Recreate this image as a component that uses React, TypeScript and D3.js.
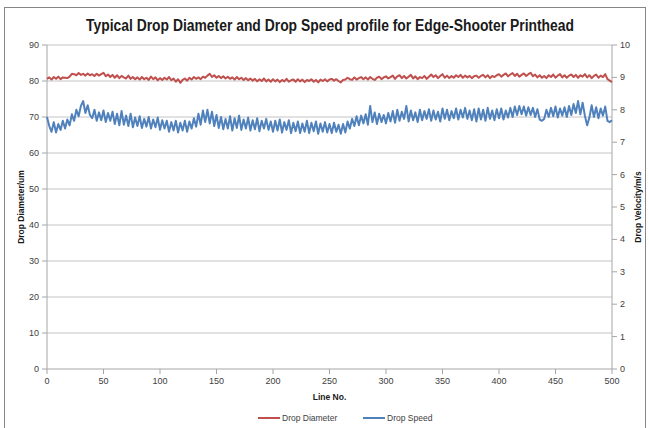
import * as d3 from "d3";

// drop diameter (um), every 2nd line from 0 to 500
const diameter: number[] = [
  80.6, 81.0, 80.4, 81.1, 80.6, 81.2, 80.5, 81.0, 80.9, 80.8,
  81.2, 82.0, 81.9, 81.6, 82.2, 81.7, 82.0, 81.5, 82.1, 81.6,
  81.9, 81.4, 82.0, 81.5, 81.9, 82.3, 81.3, 81.8, 81.1, 81.7,
  80.9, 81.6, 80.8, 81.4, 81.0, 80.7, 81.5, 80.6, 81.1, 80.5,
  81.0, 80.4, 81.1, 80.5, 80.9, 80.3, 81.2, 80.5, 81.0, 80.2,
  80.8, 80.3, 80.9, 80.4, 81.1, 80.2, 80.7, 79.8, 80.5, 79.5,
  80.3, 80.7, 80.1, 80.9, 80.4, 81.1, 80.6, 81.0, 80.5, 81.2,
  80.9, 81.5, 82.0, 81.1, 81.6, 80.9, 81.4, 80.8, 81.3, 80.7,
  81.2, 80.6, 81.0, 80.4, 81.1, 80.5, 80.9, 80.3, 80.8, 80.2,
  80.7, 80.1, 80.6, 79.9, 80.5, 80.0, 80.7, 79.9, 80.4, 79.8,
  80.5, 79.9, 80.4, 79.7, 80.3, 79.9, 80.6, 79.8, 80.2, 80.4,
  79.8, 80.5, 79.9, 80.4, 79.7, 80.3, 80.0, 80.5, 79.8, 80.3,
  79.6, 80.4, 80.0, 80.5, 79.9, 80.4, 80.6, 80.1, 80.5, 80.0,
  79.6, 80.3, 80.4, 80.9, 80.5, 80.3, 81.0, 80.4, 80.8, 81.1,
  80.5, 81.0, 80.4, 81.1, 80.6, 80.3, 80.9, 81.2, 80.5, 81.0,
  81.3, 80.7, 81.1, 81.5, 80.6, 81.3, 81.6, 80.8, 81.4, 80.7,
  81.2, 81.7, 80.7, 81.3, 80.5, 81.1, 80.8, 81.4, 80.6, 81.2,
  81.8, 81.1, 81.6, 80.8, 81.4, 81.9, 80.9, 81.5, 80.8, 81.4,
  80.9, 81.6, 81.1, 81.7, 80.9, 81.5, 81.0, 81.4, 80.8, 81.3,
  81.5, 80.9, 81.4, 81.7, 81.0, 81.6, 80.8, 81.4, 81.1, 81.6,
  81.9, 81.2, 81.7, 82.1, 81.3, 81.8, 82.2, 81.4, 82.0, 81.2,
  81.7, 82.1, 81.4, 81.9, 82.3, 81.3, 81.8, 81.0, 81.6, 80.9,
  81.4, 80.8, 81.6, 81.1, 81.8, 80.9, 81.5, 81.9, 81.0, 81.6,
  80.9, 81.5, 81.8, 81.1, 81.7, 80.9, 81.6, 81.2, 81.9, 81.0,
  81.6, 80.8, 81.4, 81.8, 80.9, 81.5, 81.1, 81.9, 80.5, 80.1,
  79.7,
];

// drop speed (m/s), every 2nd line from 0 to 500
const speed: number[] = [
  7.78, 7.50, 7.32, 7.62, 7.30, 7.56, 7.38, 7.66, 7.42, 7.70,
  7.52, 7.86, 7.66, 8.00, 7.80, 8.12, 8.27, 7.90, 8.14, 7.84,
  7.74, 8.00, 7.66, 7.92, 7.68, 7.98, 7.62, 7.90, 7.66, 7.94,
  7.56, 7.88, 7.52, 7.96, 7.54, 7.82, 7.50, 7.88, 7.46, 7.76,
  7.50, 7.80, 7.44, 7.72, 7.48, 7.78, 7.42, 7.70, 7.46, 7.76,
  7.38, 7.68, 7.42, 7.66, 7.32, 7.62, 7.36, 7.66, 7.30, 7.60,
  7.36, 7.66, 7.32, 7.64, 7.42, 7.74, 7.48, 7.88, 7.54, 7.98,
  7.62, 8.00, 7.58, 7.94, 7.50, 7.84, 7.44, 7.78, 7.40, 7.72,
  7.42, 7.80, 7.36, 7.74, 7.44, 7.82, 7.38, 7.70, 7.42, 7.76,
  7.36, 7.68, 7.40, 7.74, 7.34, 7.66, 7.42, 7.72, 7.38, 7.64,
  7.32, 7.66, 7.36, 7.70, 7.30, 7.62, 7.38, 7.68, 7.28, 7.60,
  7.34, 7.64, 7.28, 7.58, 7.32, 7.66, 7.28, 7.60, 7.34, 7.64,
  7.26, 7.58, 7.32, 7.62, 7.30, 7.56, 7.28, 7.60, 7.32, 7.54,
  7.26, 7.56, 7.30, 7.64, 7.42, 7.72, 7.50, 7.80, 7.52, 7.82,
  7.58, 7.86, 7.54, 8.12, 7.62, 7.92, 7.56, 7.88, 7.62, 7.84,
  7.58, 7.90, 7.64, 7.96, 7.60, 8.00, 7.66, 7.94, 7.72, 8.12,
  7.64, 7.98, 7.68, 7.92, 7.62, 8.00, 7.68, 7.96, 7.72, 8.02,
  7.66, 7.98, 7.70, 7.94, 7.64, 8.04, 7.72, 8.00, 7.68, 7.96,
  7.74, 8.04, 7.70, 8.00, 7.76, 8.06, 7.72, 7.98, 7.68, 8.02,
  7.64, 8.04, 7.70, 8.00, 7.66, 8.06, 7.72, 7.98, 7.68, 8.02,
  7.74, 8.04, 7.70, 7.98, 7.76, 8.06, 7.78, 8.10, 7.84, 8.12,
  7.86, 8.10, 7.82, 8.08, 7.84, 8.06, 7.78, 8.02, 7.70, 7.66,
  7.72, 8.00, 7.78, 8.06, 7.80, 8.10, 7.76, 8.04, 7.82, 8.08,
  7.78, 8.12, 7.84, 8.18, 7.90, 8.27, 7.86, 8.22, 7.82, 7.52,
  7.76, 8.14, 7.78, 8.08, 7.74, 8.04, 7.82, 8.10, 7.66, 7.62,
  7.68,
];

const xTicks = [0, 50, 100, 150, 200, 250, 300, 350, 400, 450, 500];
const leftTicks = [0, 10, 20, 30, 40, 50, 60, 70, 80, 90];
const rightTicks = [0, 1, 2, 3, 4, 5, 6, 7, 8, 9, 10];

const RED = "#C0504D";
const BLUE = "#4F81BD";
const FONT = "'Liberation Sans', Arial, sans-serif";

export default function App() {
  const W = 649;
  const H = 428;
  const left = 47;
  const right = 612;
  const top = 45;
  const bottom = 369;

  const x = d3.scaleLinear().domain([0, 500]).range([left, right]);
  const yL = d3.scaleLinear().domain([0, 90]).range([bottom, top]);
  const yR = d3.scaleLinear().domain([0, 10]).range([bottom, top]);

  const redLine = d3
    .line<number>()
    .x((_, i) => x(i * 2))
    .y((d) => yL(d));
  const blueLine = d3
    .line<number>()
    .x((_, i) => x(i * 2))
    .y((d) => yR(d));

  return (
    <svg
      width={W}
      height={H}
      style={{ position: "absolute", left: 0, top: 0, background: "#fff" }}
      fontFamily={FONT}
    >
      {/* chart frame */}
      <rect x={4.5} y={7.5} width={641} height={430} fill="none" stroke="#868686" />

      <text
        x={330}
        y={31}
        textAnchor="middle"
        fontSize={16}
        fontWeight="bold"
        fill="#1a1a1a"
        textLength={488}
        lengthAdjust="spacingAndGlyphs"
      >
        Typical Drop Diameter and Drop Speed profile for Edge-Shooter Printhead
      </text>

      {/* gridlines */}
      {leftTicks.slice(1).map((t) => (
        <line key={t} x1={left} x2={right} y1={yL(t)} y2={yL(t)} stroke="#c4c4c4" strokeWidth={1} />
      ))}

      {/* axes */}
      <line x1={left} x2={left} y1={top} y2={bottom} stroke="#a6a6a6" />
      <line x1={right} x2={right} y1={top} y2={bottom} stroke="#a6a6a6" />
      <line x1={left} x2={right} y1={bottom} y2={bottom} stroke="#a6a6a6" />

      {leftTicks.map((t) => (
        <g key={"l" + t}>
          <line x1={left - 5} x2={left} y1={yL(t)} y2={yL(t)} stroke="#a6a6a6" />
          <text x={left - 8} y={yL(t) + 3} textAnchor="end" fontSize={9} fill="#404040">
            {t}
          </text>
        </g>
      ))}
      {rightTicks.map((t) => (
        <g key={"r" + t}>
          <line x1={right} x2={right + 5} y1={yR(t)} y2={yR(t)} stroke="#a6a6a6" />
          <text x={right + 8} y={yR(t) + 3} textAnchor="start" fontSize={9} fill="#404040">
            {t}
          </text>
        </g>
      ))}
      {xTicks.map((t) => (
        <g key={"x" + t}>
          <line x1={x(t)} x2={x(t)} y1={bottom} y2={bottom + 5} stroke="#a6a6a6" />
          <text x={x(t)} y={bottom + 15} textAnchor="middle" fontSize={9} fill="#404040">
            {t}
          </text>
        </g>
      ))}

      <text x={(left + right) / 2} y={400} textAnchor="middle" fontSize={8.5} fontWeight="bold" fill="#1a1a1a">
        Line No.
      </text>
      <text
        transform={`translate(24,${(top + bottom) / 2}) rotate(-90)`}
        textAnchor="middle"
        fontSize={8.5}
        fontWeight="bold"
        fill="#1a1a1a"
      >
        Drop Diameter/um
      </text>
      <text
        transform={`translate(641,${(top + bottom) / 2}) rotate(-90)`}
        textAnchor="middle"
        fontSize={8.5}
        fontWeight="bold"
        fill="#1a1a1a"
      >
        Drop Velocity/m/s
      </text>

      {/* series */}
      <path d={redLine(diameter) ?? ""} fill="none" stroke={RED} strokeWidth={2} strokeLinejoin="round" />
      <path d={blueLine(speed) ?? ""} fill="none" stroke={BLUE} strokeWidth={2} strokeLinejoin="round" />

      {/* legend */}
      <line x1={258} x2={280} y1={418} y2={418} stroke={RED} strokeWidth={2} />
      <text x={282} y={421} fontSize={8.5} fill="#404040">
        Drop Diameter
      </text>
      <line x1={363} x2={385} y1={418} y2={418} stroke={BLUE} strokeWidth={2} />
      <text x={387} y={421} fontSize={8.5} fill="#404040">
        Drop Speed
      </text>
    </svg>
  );
}
